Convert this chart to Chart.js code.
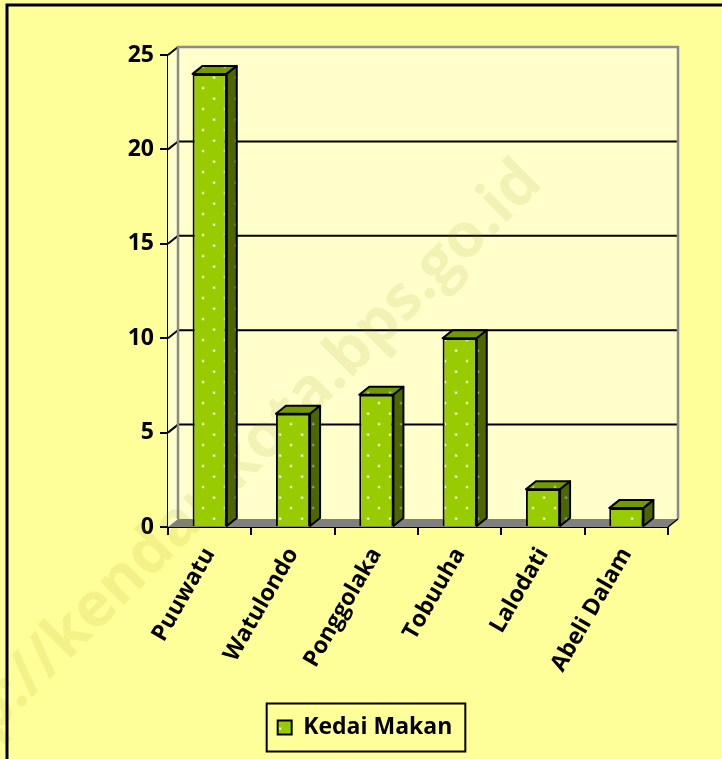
<!DOCTYPE html>
<html>
<head>
<meta charset="utf-8">
<script src="https://cdn.jsdelivr.net/npm/chart.js@4.4.0/dist/chart.umd.min.js"></script>
<style>
  html, body { margin: 0; padding: 0; background: #FFFF99; }
  #wrap { width: 722px; height: 759px; position: relative; }
</style>
</head>
<body>
<div id="wrap"><canvas id="box"></canvas></div>
<script>
var kelurahan = ["Puuwatu", "Watulondo", "Ponggolaka", "Tobuuha", "Lalodati", "Abeli Dalam"];
var kedaiMakan = [24, 6, 7, 10, 2, 1];
var yTicks = [0, 5, 10, 15, 20, 25];

var DX = 10, DY = -8; // depth of the 3d look
var FONT = "'Open Sans', Lato, sans-serif";

function dots(base, dot) {
    var c = document.createElement("canvas");
    c.width = 22; c.height = 21;
    var g = c.getContext("2d");
    g.fillStyle = base;
    g.fillRect(0, 0, 22, 21);
    g.fillStyle = dot;
    [[5, 4], [16, 14.5]].forEach(function (p) {
        g.globalAlpha = 0.35;
        g.fillRect(p[0] - 1.5, p[1] - 1.5, 3, 3);
        g.globalAlpha = 1;
        g.fillRect(p[0] - 0.5, p[1] - 0.5, 1.5, 1.5);
    });
    return document.createElement("canvas").getContext("2d").createPattern(c, "repeat");
}

var frontFill = dots("#99CC00", "#ffffff");
var topFill = dots("#739900", "#c8d890");
var sideFill = dots("#4D6600", "#a0a890");

var wall = {
    id: "wall",
    afterLayout: function (chart) {
        // legend sits a bit right of the plot centre
        chart.legend.left += 27;
        chart.legend.right += 27;
    },
    beforeDatasetsDraw: function (chart) {
        var ctx = chart.ctx, a = chart.chartArea, y = chart.scales.y;
        ctx.save();
        ctx.fillStyle = "#FFFFCC";
        ctx.fillRect(a.left + DX, a.top + DY, a.right - a.left, a.bottom - a.top);
        ctx.beginPath();
        ctx.moveTo(a.left, a.top);
        ctx.lineTo(a.left + DX, a.top + DY);
        ctx.lineTo(a.left + DX, a.bottom + DY);
        ctx.lineTo(a.left, a.bottom);
        ctx.closePath();
        ctx.fill();

        ctx.strokeStyle = "#000";
        ctx.lineWidth = 2;
        yTicks.forEach(function (v) {
            if (v === 0) return;
            var py = y.getPixelForValue(v);
            ctx.beginPath();
            ctx.moveTo(a.left, py);
            ctx.lineTo(a.left + DX, py + DY);
            if (v !== 25) ctx.lineTo(a.right + DX, py + DY);
            ctx.stroke();
        });

        ctx.strokeStyle = "#8a8a8a";
        ctx.lineWidth = 2.5;
        ctx.beginPath();
        ctx.moveTo(a.left + DX, a.bottom + DY);
        ctx.lineTo(a.left + DX, a.top + DY);
        ctx.lineTo(a.right + DX, a.top + DY);
        ctx.lineTo(a.right + DX, a.bottom + DY);
        ctx.stroke();

        // floor
        ctx.fillStyle = "#808080";
        ctx.beginPath();
        ctx.moveTo(a.left, a.bottom);
        ctx.lineTo(a.right, a.bottom);
        ctx.lineTo(a.right + DX, a.bottom + DY);
        ctx.lineTo(a.left + DX, a.bottom + DY);
        ctx.closePath();
        ctx.fill();
        ctx.strokeStyle = "#000";
        ctx.lineWidth = 1.5;
        ctx.beginPath();
        ctx.moveTo(a.right, a.bottom);
        ctx.lineTo(a.right + DX, a.bottom + DY);
        ctx.stroke();

        // watermark, under the bars
        ctx.translate(532, 172);
        ctx.rotate(-45 * Math.PI / 180);
        ctx.font = "bold 62px " + FONT;
        ctx.textAlign = "right";
        ctx.fillStyle = "rgba(140, 140, 0, 0.11)";
        ctx.fillText("http://kendarikota.bps.go.id", 0, 0);
        ctx.restore();
    },
    afterDatasetsDraw: function (chart) {
        var ctx = chart.ctx;
        ctx.save();
        ctx.strokeStyle = "#000";
        ctx.lineWidth = 2;
        ctx.lineJoin = "round";
        chart.getDatasetMeta(0).data.forEach(function (bar) {
            var p = bar.getProps(["x", "y", "base", "width"], true);
            var l = p.x - p.width / 2, r = p.x + p.width / 2, t = p.y, b = p.base;
            ctx.fillStyle = topFill;
            ctx.beginPath();
            ctx.moveTo(l, t);
            ctx.lineTo(l + DX, t + DY);
            ctx.lineTo(r + DX, t + DY);
            ctx.lineTo(r, t);
            ctx.closePath();
            ctx.fill();
            ctx.stroke();
            ctx.fillStyle = sideFill;
            ctx.beginPath();
            ctx.moveTo(r, t);
            ctx.lineTo(r + DX, t + DY);
            ctx.lineTo(r + DX, b + DY);
            ctx.lineTo(r, b);
            ctx.closePath();
            ctx.fill();
            ctx.stroke();
        });
        ctx.restore();
    },
    afterDraw: function (chart) {
        var ctx = chart.ctx;
        ctx.save();
        // legend frame
        var h = chart.legend.legendHitBoxes[0];
        if (h) {
            var cy = h.top + h.height / 2;
            ctx.strokeStyle = "#000";
            ctx.lineWidth = 2;
            ctx.strokeRect(h.left - 11, cy - 24, h.width + 24, 48);
        }
        // outer frame (left and top only visible)
        ctx.lineWidth = 3;
        ctx.beginPath();
        ctx.moveTo(7, 759);
        ctx.lineTo(7, 5);
        ctx.lineTo(722, 5);
        ctx.stroke();
        ctx.restore();
    }
};

var mychart = new Chart("box", {
    type: "bar",
    data: {
        labels: kelurahan,
        datasets: [{
            label: "Kedai Makan",
            data: kedaiMakan,
            backgroundColor: frontFill,
            borderColor: "#000",
            borderWidth: 2,
            categoryPercentage: 1,
            barPercentage: 0.41
        }]
    },
    options: {
        responsive: true,
        maintainAspectRatio: false,
        animation: false,
        layout: { padding: { left: 8, top: 55, right: 54, bottom: 10 } },
        plugins: {
            tooltip: { enabled: false },
            legend: {
                position: "bottom",
                labels: {
                    boxWidth: 14,
                    boxHeight: 14,
                    padding: 14,
                    color: "#000",
                    font: { family: FONT, size: 23, weight: "bold" }
                }
            }
        },
        scales: {
            x: {
                grid: { drawOnChartArea: false, tickLength: 8, color: "#000", lineWidth: 2 },
                border: { color: "#000", width: 2 },
                ticks: {
                    color: "#000",
                    maxRotation: 60,
                    minRotation: 60,
                    padding: 8,
                    font: { family: FONT, size: 23, weight: "bold" }
                },
                afterFit: function (s) { s.height = 175; }
            },
            y: {
                min: 0,
                max: 25,
                grid: { drawOnChartArea: false, tickLength: 8, color: "#000", lineWidth: 2 },
                border: { color: "#000", width: 2 },
                ticks: {
                    stepSize: 5,
                    color: "#000",
                    padding: 6,
                    font: { family: FONT, size: 23, weight: "bold" }
                },
                afterFit: function (s) { s.width = 160; }
            }
        }
    },
    plugins: [wall]
});
</script>
</body>
</html>
